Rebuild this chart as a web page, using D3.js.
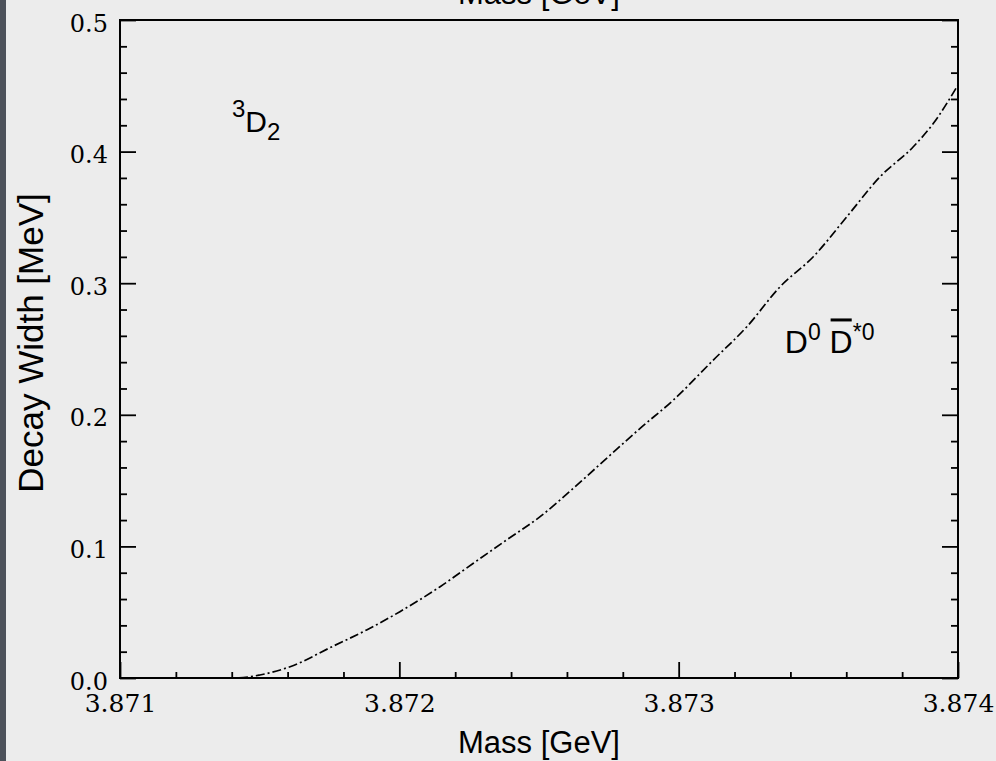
<!DOCTYPE html>
<html>
<head>
<meta charset="utf-8">
<script src="https://cdn.jsdelivr.net/npm/d3@7"></script>
<style>
  body { margin: 0; background: #ececec; }
  svg { display: block; }
</style>
</head>
<body>
<div id="chart_container"></div>
<script>
// values
var mass_gev = [3.871, 3.871419, 3.871501, 3.871609, 3.871764, 3.871883, 3.872002, 3.872146,
    3.872265, 3.872384, 3.872504, 3.872623, 3.872742, 3.872862, 3.872981, 3.873124,
    3.873244, 3.873363, 3.873482, 3.873602, 3.873721, 3.873840, 3.873912, 3.874]
var width_mev = [0, 0, 0.0023, 0.0086, 0.0243, 0.0365, 0.0504, 0.0694,
    0.0872, 0.1049, 0.1226, 0.1442, 0.1669, 0.1897, 0.2112, 0.2416,
    0.2669, 0.2973, 0.3201, 0.3505, 0.3809, 0.4037, 0.4215, 0.4506]

var x_major = [3.871, 3.872, 3.873, 3.874]
var x_minor = [3.8712, 3.8714, 3.8716, 3.8718, 3.8722, 3.8724, 3.8726, 3.8728,
    3.8732, 3.8734, 3.8736, 3.8738]
var y_major = [0, 0.1, 0.2, 0.3, 0.4, 0.5]
var y_minor = [0.02, 0.04, 0.06, 0.08, 0.12, 0.14, 0.16, 0.18, 0.22, 0.24, 0.26, 0.28,
    0.32, 0.34, 0.36, 0.38, 0.42, 0.44, 0.46, 0.48]

var x_title = "Mass [GeV]"
var y_title = "Decay Width [MeV]"

var W = 996, H = 761
var p_left = 120, p_right = 958, p_top = 20, p_bottom = 678

var x = d3.scaleLinear().domain([3.871, 3.874]).range([p_left, p_right])
var y = d3.scaleLinear().domain([0, 0.5]).range([p_bottom, p_top])

draw_chart()

function add_ticks(svg, pos, axis) {
    return svg.append("g")
        .attr("transform", pos)
        .call(axis)
}

function draw_chart() {
    var svg = d3.select("#chart_container")
        .append("svg")
            .attr("width", W)
            .attr("height", H)

    svg.append("rect")
        .attr("width", W).attr("height", H)
        .style("fill", "#ececec")
    // dark strip of the slide on the left edge
    svg.append("rect")
        .attr("width", 6).attr("height", H)
        .style("fill", "#4d525b")

    // ticks, all pointing inward
    var bx = "translate(0," + p_bottom + ")"
    var ly = "translate(" + p_left + ",0)"
    var ry = "translate(" + p_right + ",0)"
    add_ticks(svg, bx, d3.axisBottom(x).tickValues(x_minor).tickSize(-6).tickFormat(""))
    var gx = add_ticks(svg, bx, d3.axisBottom(x).tickValues(x_major).tickSize(-16).tickFormat(d3.format(".3f")))
    add_ticks(svg, ly, d3.axisLeft(y).tickValues(y_minor).tickSize(-7).tickFormat(""))
    var gy = add_ticks(svg, ly, d3.axisLeft(y).tickValues(y_major).tickSize(-16).tickFormat(d3.format(".1f")))
    add_ticks(svg, ry, d3.axisRight(y).tickValues(y_minor).tickSize(-7).tickFormat(""))
    add_ticks(svg, ry, d3.axisRight(y).tickValues(y_major).tickSize(-16).tickFormat(""))

    svg.selectAll(".domain").remove()
    svg.selectAll(".tick line")
        .style("stroke", "#000")
        .style("stroke-width", "1.8px")

    gx.selectAll("text")
        .attr("y", 34).attr("dy", 0)
        .style("font-family", "'DejaVu Serif', serif")
        .style("font-size", "25px")
        .style("fill", "#000")
    gy.selectAll("text")
        .attr("x", -12).attr("dy", 11)
        .style("font-family", "'DejaVu Serif', serif")
        .style("font-size", "24px")
        .style("fill", "#000")

    // frame
    svg.append("rect")
        .attr("x", p_left).attr("y", p_top)
        .attr("width", p_right - p_left).attr("height", p_bottom - p_top)
        .style("fill", "none")
        .style("stroke", "#000")
        .style("stroke-width", "2px")

    var pts = mass_gev.map(function(m, i) { return [m, width_mev[i]] })
    var line = d3.line()
        .x(function(d) { return x(d[0]) })
        .y(function(d) { return y(d[1]) })
        .curve(d3.curveMonotoneX)

    svg.append("path")
        .datum(pts)
        .attr("d", line)
        .style("fill", "none")
        .style("stroke", "#000")
        .style("stroke-width", "1.7px")
        .style("stroke-dasharray", "9,3,2,3")

    var sans = "'Liberation Sans', Arial, sans-serif"

    // axis titles (top one is cut off by the page edge)
    svg.append("text")
        .attr("x", (p_left + p_right) / 2).attr("y", 753)
        .attr("text-anchor", "middle")
        .style("font-family", sans).style("font-size", "31px")
        .text(x_title)
    svg.append("text")
        .attr("x", (p_left + p_right) / 2).attr("y", 4)
        .attr("text-anchor", "middle")
        .style("font-family", sans).style("font-size", "31px")
        .text(x_title)
    svg.append("text")
        .attr("transform", "translate(43,343) rotate(-90)")
        .attr("text-anchor", "middle")
        .style("font-family", sans).style("font-size", "35px")
        .text(y_title)

    // state label
    var t1 = svg.append("text")
        .attr("x", x(3.871401)).attr("y", y(0.415))
        .style("font-family", sans).style("font-size", "30px")
    t1.append("tspan").attr("dy", -15).style("font-size", "24px").text("3")
    t1.append("tspan").attr("dy", 15).text("D")
    t1.append("tspan").attr("dy", 8).style("font-size", "24px").text("2")

    // channel label
    var t2 = svg.append("text")
        .attr("x", x(3.87338)).attr("y", y(0.247))
        .style("font-family", sans).style("font-size", "32px")
    t2.append("tspan").text("D")
    t2.append("tspan").attr("dy", -13).style("font-size", "23px").text("0")
    t2.append("tspan").attr("dy", 13).text(" ")
    t2.append("tspan").text("D")
    t2.append("tspan").attr("dy", -13).style("font-size", "23px").text("*0")

    // bar over the second D
    var ext = t2.node().getExtentOfChar(3)
    svg.append("line")
        .attr("x1", ext.x + 1).attr("x2", ext.x + ext.width - 1)
        .attr("y1", y(0.247) - 33).attr("y2", y(0.247) - 33)
        .style("stroke", "#000")
        .style("stroke-width", "3px")
}
</script>
</body>
</html>
